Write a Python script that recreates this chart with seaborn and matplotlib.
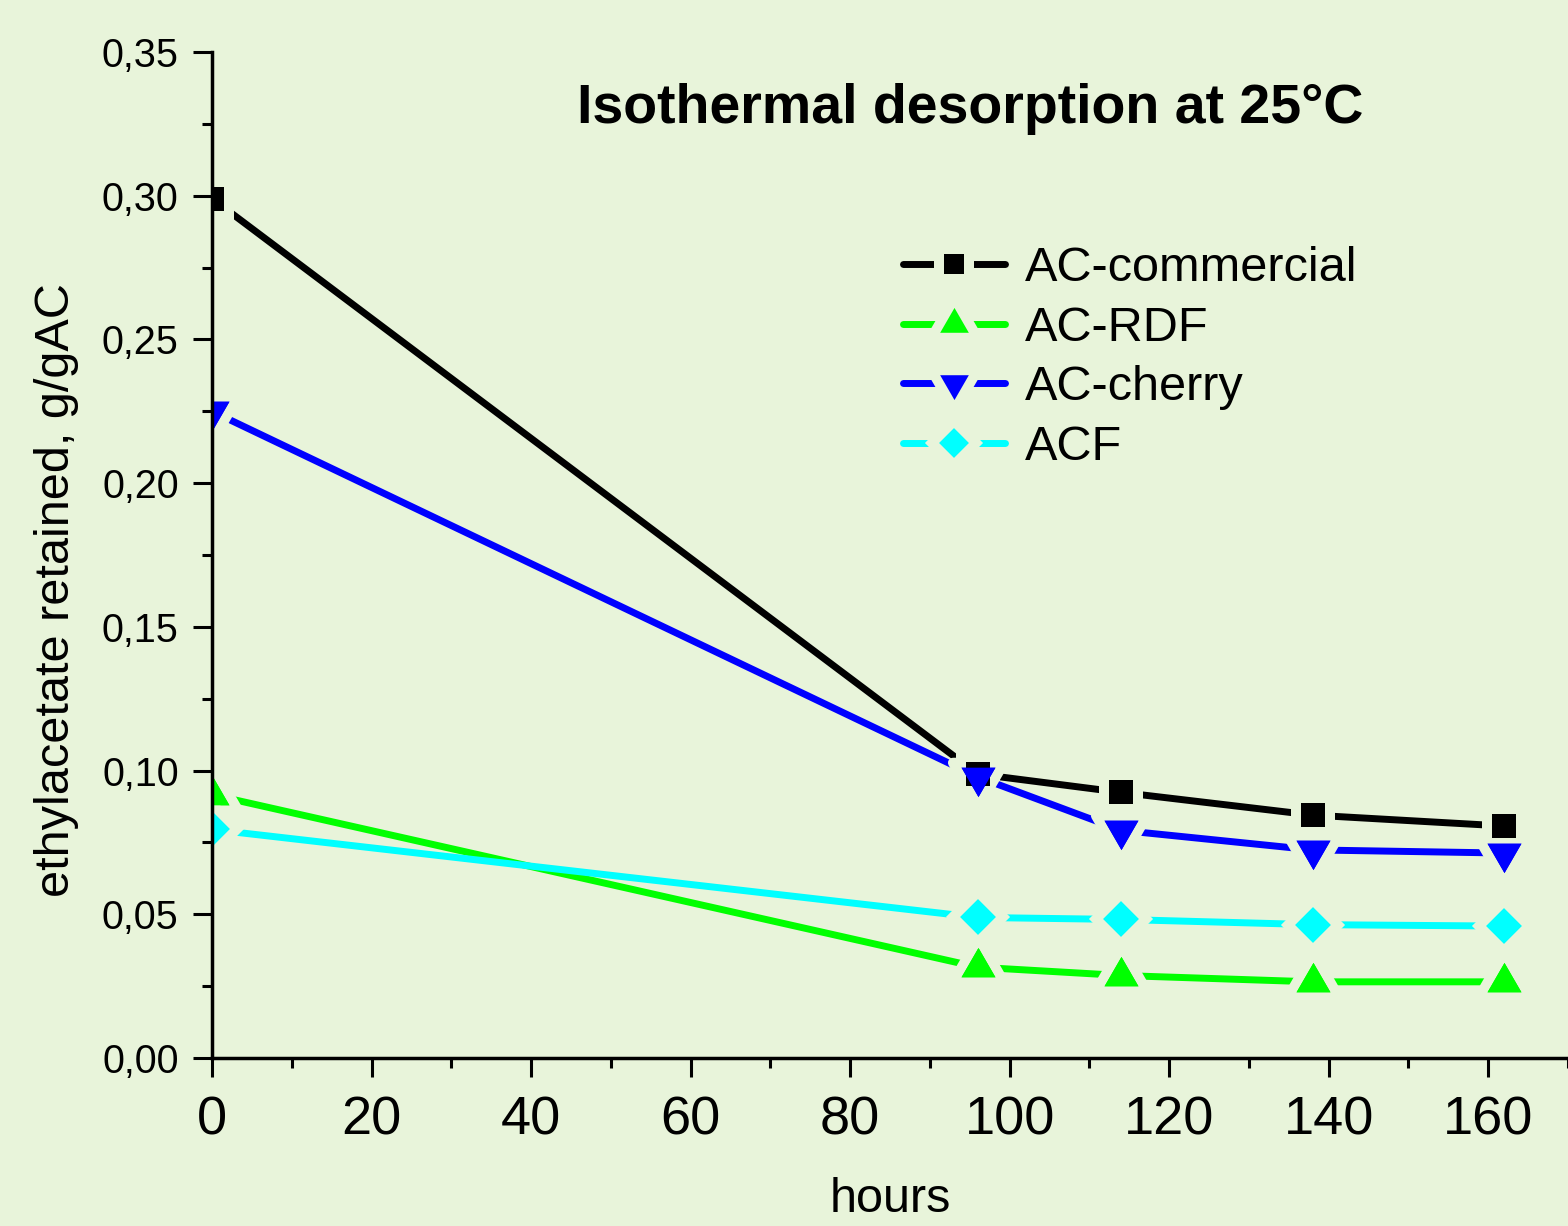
"""Isothermal desorption of ethyl acetate at 25 C for four carbons."""

import pandas as pd
import seaborn as sns
import matplotlib.pyplot as plt
from matplotlib import ticker

# values
hours = [0, 96, 114, 138, 162]
ac_commercial = [0.299, 0.0988, 0.0924, 0.0845, 0.0807]
ac_rdf = [0.0916, 0.0316, 0.0287, 0.0265, 0.0265]
ac_cherry = [0.225, 0.0978, 0.0792, 0.0724, 0.0713]
acf = [0.0795, 0.0489, 0.0482, 0.0464, 0.0459]

series_names = ["AC-commercial", "AC-RDF", "AC-cherry", "ACF"]
series_values = [ac_commercial, ac_rdf, ac_cherry, acf]
colors = ["#000000", "#00FF00", "#0000FF", "#00FFFF"]

BG = "#E8F4DA"

# triangles centred on their centroid, like Origin draws them
tri_up = [(0, 1), (-0.866, -0.5), (0.866, -0.5), (0, 1)]
tri_down = [(0, -1), (-0.866, 0.5), (0.866, 0.5), (0, -1)]
markers = ["s", tri_up, tri_down, "D"]
gap_sizes = [24.5, 42.5, 42.5, 25]   # marker + background edge (line gap)
mark_sizes = [17.3, 28.3, 28.3, 17.8]  # visible marker

df = pd.DataFrame({
    "hours": hours * len(series_names),
    "retained": [v for vals in series_values for v in vals],
    "sample": [n for n in series_names for _ in hours],
})

sns.set_style("ticks")
plt.rcParams["font.family"] = ["Liberation Sans", "DejaVu Sans"]
for key in ["text.color", "axes.labelcolor", "xtick.color", "ytick.color"]:
    plt.rcParams[key] = "black"

fig = plt.figure(figsize=(15.68, 12.26), dpi=100, facecolor=BG)
ax = fig.add_axes([212 / 1568, 1 - 1058 / 1226, 1 - 212 / 1568, (1058 - 52) / 1226])
ax.set_facecolor(BG)

# lines, broken around each point
for name, color, marker, ms in zip(series_names, colors, markers, gap_sizes):
    sns.lineplot(data=df[df["sample"] == name], x="hours", y="retained",
                 color=color, marker=marker, markersize=ms,
                 markeredgecolor=BG, markeredgewidth=7.2,
                 linewidth=5, errorbar=None, label=name, ax=ax)
handles, labels = ax.get_legend_handles_labels()

# solid markers on top
for name, color, marker, ms in zip(series_names, colors, markers, mark_sizes):
    sns.lineplot(data=df[df["sample"] == name], x="hours", y="retained",
                 color=color, marker=marker, markersize=ms,
                 markeredgewidth=0, linestyle="", errorbar=None,
                 legend=False, ax=ax)

ax.set_xlim(0, 170)
ax.set_ylim(0, 0.35)
ax.xaxis.set_major_locator(ticker.MultipleLocator(20))
ax.xaxis.set_minor_locator(ticker.MultipleLocator(10))
ax.yaxis.set_major_locator(ticker.MultipleLocator(0.05))
ax.yaxis.set_minor_locator(ticker.MultipleLocator(0.025))
ax.yaxis.set_major_formatter(
    ticker.FuncFormatter(lambda v, p: f"{v:.2f}".replace(".", ",")))

for side in ["top", "right"]:
    ax.spines[side].set_visible(False)
for side in ["left", "bottom"]:
    ax.spines[side].set_linewidth(2.5)
    ax.spines[side].set_color("black")

ax.tick_params(axis="both", which="major", direction="out", length=14,
               width=2.2, color="black", labelcolor="black")
ax.tick_params(axis="both", which="minor", direction="out", length=7.5,
               width=2.2, color="black")
ax.tick_params(axis="x", which="major", labelsize=39, pad=13)
ax.tick_params(axis="y", which="major", labelsize=28.5, pad=10)

ax.set_xlabel("")
ax.set_ylabel("")
fig.text(57 / 1568, 1 - 590 / 1226, "ethylacetate retained, g/gAC",
         rotation=90, ha="center", va="center", fontsize=35)
fig.text(890 / 1568, 1 - 1212 / 1226, "hours", ha="center", va="baseline",
         fontsize=35)
fig.text(970 / 1568, 1 - 123 / 1226, "Isothermal desorption at 25°C",
         ha="center", va="baseline", fontsize=40, fontweight="bold")

ax.legend(handles, labels, loc="upper left",
          bbox_to_anchor=(903 / 1568, 1 - 246 / 1226),
          bbox_transform=fig.transFigure, frameon=False, fontsize=35,
          handlelength=2.1, handletextpad=0.4, labelspacing=0.3,
          borderpad=0, borderaxespad=0, markerscale=0.9)

fig.savefig("out.png", dpi=100, facecolor=BG)
